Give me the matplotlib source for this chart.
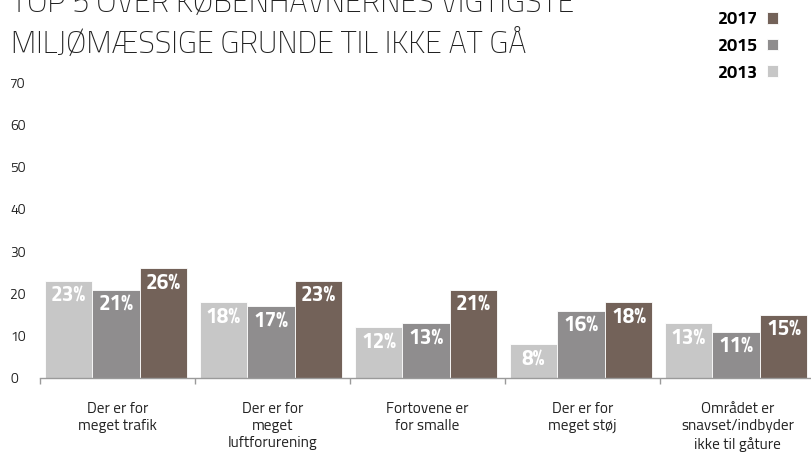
import matplotlib
matplotlib.use("Agg")
import matplotlib.pyplot as plt
import numpy as np

FONT = ["Titillium Web", "DejaVu Sans"]
plt.rcParams['font.family'] = FONT

categories = ["Der er for\nmeget trafik", "Der er for\nmeget\nluftforurening",
              "Fortovene er\nfor smalle", "Der er for\nmeget støj",
              "Området er\nsnavset/indbyder\nikke til gåture"]
years = ["2013", "2015", "2017"]
v2013 = [23, 18, 12, 8, 13]
v2015 = [21, 17, 13, 16, 11]
v2017 = [26, 23, 21, 18, 15]
series = [v2013, v2015, v2017]
colors = ["#c7c7c7", "#8f8d8e", "#736259"]
yticks = [0, 10, 20, 30, 40, 50, 60, 70]

W, H = 812, 454
fig = plt.figure(figsize=(W/100, H/100), dpi=100)
ax = fig.add_axes([40/W, (H-378)/H, (815-40)/W, (378-83)/H])

x = np.arange(len(categories))
bw = 0.305
bars_all = []
for i, (vals, col) in enumerate(zip(series, colors)):
    bars = ax.bar(x + (i-1)*0.307 - 0.01, vals, width=bw, color=col, edgecolor='white',
                  linewidth=0.6, label=years[i], zorder=2)
    bars_all.append(bars)
    for b, v in zip(bars, vals):
        ax.annotate(f"{v}%", (b.get_x()+b.get_width()/2, b.get_height()),
                    xytext=(0, -16), textcoords='offset pixels', ha='center', va='center',
                    color='white', fontsize=15, fontweight='bold')

ax.set_xlim(-0.5, len(categories)-0.5)
ax.set_ylim(0, 70)
ax.set_yticks(yticks)
ax.set_yticklabels([str(t) for t in yticks])
for lab in ax.get_yticklabels():
    lab.set_ha('left')
ax.tick_params(axis='y', length=0, pad=21.5, labelsize=10, labelcolor='#222222')

ax.set_xticks(x)
ax.set_xticklabels(categories, fontsize=11, linespacing=1.3, color='#222222')
ax.set_xticks(np.arange(len(categories)+1)-0.5, minor=True)
ax.tick_params(axis='x', which='minor', length=4, color='#9a9a9a', width=1)
ax.tick_params(axis='x', which='major', length=0, pad=17)

for s in ['top', 'right', 'left']:
    ax.spines[s].set_visible(False)
ax.spines['bottom'].set_color('#9a9a9a')
ax.spines['bottom'].set_linewidth(1)

fig.text(11/W, 1-12/H, "TOP 5 OVER KØBENHAVNERNES VIGTIGSTE", fontsize=22,
         fontweight='light', color='#222222', va='baseline', ha='left')
fig.text(11/W, 1-53/H, "MILJØMÆSSIGE GRUNDE TIL IKKE AT GÅ", fontsize=22,
         fontweight='light', color='#222222', va='baseline', ha='left')

handles = [bars_all[2], bars_all[1], bars_all[0]]
leg = fig.legend(handles, ["2017", "2015", "2013"], loc='upper right',
                 bbox_to_anchor=(778/W, 1-12/H), frameon=False, markerfirst=False,
                 handlelength=0.62, handleheight=0.62, handletextpad=0.5,
                 labelspacing=0.58, borderpad=0, borderaxespad=0,
                 prop={'family': FONT, 'weight': 'bold', 'size': 13})

fig.savefig("out.png", dpi=100)
